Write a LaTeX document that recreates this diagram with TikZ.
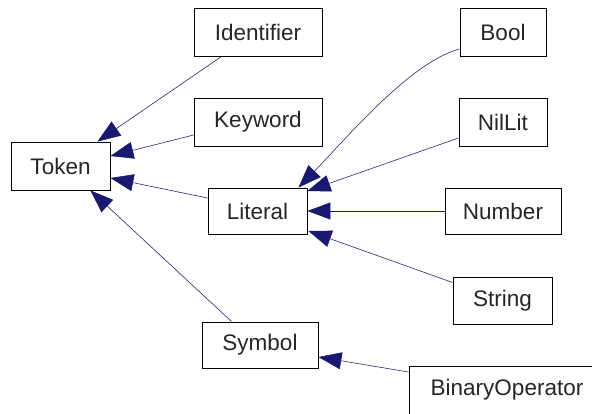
\documentclass[tikz,border=0pt]{standalone}
\usepackage{fontspec}
\setmainfont{Liberation Sans}
\usetikzlibrary{arrows.meta,calc}
\definecolor{edgeblue}{HTML}{191970}
\begin{document}
\begin{tikzpicture}[x=1pt,y=-1pt,
  cls/.style={draw=black,line width=0.9pt,fill=white,inner sep=0pt,
    font=\fontsize{22.5}{26}\selectfont,text=black!85},
  inherit/.style={draw=edgeblue,line width=0.55pt,
    -{Triangle[length=23pt,width=17pt]},color=edgeblue}]
\useasboundingbox (0,0) rectangle (592,413);
\clip (0,0) rectangle (592,413);
\fill[white] (0,0) rectangle (592,413);

% class boxes
\node[cls,minimum width=99pt,minimum height=48pt] (Token) at (60.5,166) {Token};
\node[cls,minimum width=128pt,minimum height=48pt] (Identifier) at (258,32) {Identifier};
\node[cls,minimum width=128pt,minimum height=48pt] (Keyword) at (258,122) {Keyword};
\node[cls,minimum width=99pt,minimum height=46pt] (Literal) at (257.5,211) {Literal};
\node[cls,minimum width=86pt,minimum height=48pt] (Bool) at (503,32) {Bool};
\node[cls,minimum width=88pt,minimum height=48pt] (NilLit) at (503,122) {NilLit};
\node[cls,minimum width=116pt,minimum height=46pt] (Number) at (503,211) {Number};
\node[cls,minimum width=99pt,minimum height=47pt] (String) at (502.5,300.5) {String};
\node[cls,minimum width=116pt,minimum height=46pt] (Symbol) at (260,345) {Symbol};
\node[cls,minimum width=196pt,minimum height=48pt] (BinOp) at (507,390) {BinaryOperator};

% inheritance edges (child -> parent)
\draw[inherit] ($(Identifier.south west)+(28,0)$) -- ($(Token.north east)+(-13,0)$);
\draw[inherit] ($(Keyword.west)+(0,13)$) -- ($(Token.east)+(0,-10)$);
\draw[inherit] ($(Literal.west)+(0,-13)$) -- ($(Token.east)+(0,12)$);
\draw[inherit] ($(Symbol.north west)+(30,0)$) -- ($(Token.south east)+(-20,0)$);

\draw[inherit] ($(Bool.west)+(0,17)$) .. controls (410,62) and (345,140) .. ($(Literal.north east)+(-9,0)$);
\draw[inherit] ($(NilLit.west)+(0,16)$) -- ($(Literal.east)+(0,-20)$);
\draw[inherit] (Number.west) -- (Literal.east);
\draw[inherit] ($(String.west)+(0,-18)$) -- ($(Literal.east)+(1,20)$);

\draw[inherit] ($(BinOp.west)+(0,-18)$) -- ($(Symbol.east)+(0,12)$);
\end{tikzpicture}
\end{document}
